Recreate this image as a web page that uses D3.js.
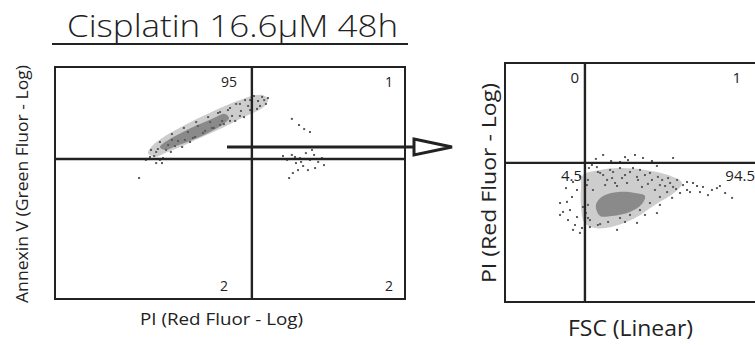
<!DOCTYPE html>
<html><head><meta charset="utf-8">
<script src="https://cdn.jsdelivr.net/npm/d3@7"></script>
<style>
html,body{margin:0;padding:0;background:#fff;}
svg{display:block;}
text{font-family:"Open Sans","Noto Sans",sans-serif;}
</style></head>
<body>
<svg id="chart" width="755" height="345"></svg>
<script>
// ---------------- DATA (channel units 0-1024) ----------------
const titleText = "Cisplatin 16.6\u03bcM 48h";

// Left panel: Annexin V vs PI
const leftXLabel = "PI (Red Fluor - Log)";
const leftYLabel = "Annexin V (Green Fluor - Log)";
const leftGates = [576, 618];            // [x gate, y gate]
const leftQuadrants = [95, 1, 2, 2];     // UL, UR, LL, LR (%)
const leftHalo = [[272,644],[284,675],[322,719],[380,768],[439,812],[497,852],[541,878],[576,896],[606,900],[623,883],[614,852],[585,825],[541,795],[489,755],[424,711],[366,671],[322,644],[293,627]];
const leftCore = [[307,671],[336,706],[380,742],[424,772],[465,799],[497,817],[509,799],[489,768],[448,733],[401,702],[354,675],[322,658]];
const leftDots = [[281,658],[290,631],[301,662],[316,622],[331,680],[307,614],[342,702],[360,697],[372,671],[389,737],[410,715],[418,764],[439,742],[454,781],[465,755],[477,821],[489,786],[506,834],[518,808],[530,861],[544,830],[556,878],[565,852],[582,896],[594,874],[606,892],[617,861],[591,839],[553,803],[527,786],[494,772],[395,693],[339,649],[278,627],[246,534],[266,614],[296,600],[313,600],
  [296,649],[325,658],[351,675],[380,702],[404,711],[433,733],[459,755],[483,768],[512,786],[541,808],[571,834],[600,852],[571,878],[541,861],[512,843],[483,825],[448,803],[413,781],[377,755],[342,728],[307,693],[612,878],[623,887],
  [693,795],[714,768],[729,750],[746,737],[667,631],[679,614],[693,636],[705,600],[717,622],[726,587],[734,644],[746,614],[758,636],[770,605],[781,622],[711,569],[696,556],[685,534],[740,569],[761,578],[720,605],[702,627],[787,591],[752,658]];

// Right panel: PI vs FSC
const rightXLabel = "FSC (Linear)";
const rightYLabel = "PI (Red Fluor - Log)";
const rightGates = [321, 596];
const rightQuadrants = [0, 1, 4.5, 94.5]; // UL, UR, LL, LR (%)
const rightHalo = [[313,544],[382,566],[462,574],[562,566],[655,544],[711,510],[683,471],[602,416],[522,360],[442,326],[361,317],[317,343],[305,416],[305,488]];
const rightCore = [[365,416],[394,454],[454,471],[522,467],[562,454],[550,420],[502,386],[430,369],[382,369]];
const rightDots = [[394,630],[482,621],[522,630],[675,617],[494,608],[462,600],
  [337,574],[373,557],[422,566],[462,574],[502,557],[542,566],[582,553],[614,536],[655,531],[691,523],[731,514],[755,510],[795,493],[831,480],[851,488],[884,467],[912,446],[731,480],[675,493],[651,471],[622,450],[582,424],[542,394],[502,373],[462,360],[414,343],[373,330],[341,321],[309,317],[301,296],[273,309],[253,351],[233,386],[221,424],[249,429],[269,450],[289,480],[273,514],[301,536],[333,523],[353,480],[313,407],[289,364],[333,360],[450,309],[530,339],[610,381],[703,467],
  [382,553],[430,531],[482,544],[534,523],[574,506],[622,501],[402,501],[442,510],
  [349,587],[369,578],[394,544],[410,523],[434,557],[450,497],[470,531],[490,510],[514,574],[530,536],[550,493],[562,544],[590,523],[602,480],[631,523],[643,497],[663,510],[687,484],[715,501],[743,471],[771,497],[783,471],[815,458],[863,497],[329,501],[321,458],[333,416],[325,381],[341,351],[382,334],[482,343],[562,373],[622,416],[671,446],[245,488],[221,373],[281,330],[261,394],[590,604],[554,617],[610,583],[426,604],[365,613]];

// ---------------- DRAWING ----------------
const svg = d3.select("#chart");
const ink = "#222";

// Title + underline
svg.append("text").attr("x", 67).attr("y", 37)
  .attr("textLength", 331).attr("lengthAdjust","spacingAndGlyphs")
  .attr("fill", ink).style("font-size","32px").style("font-weight","300").text(titleText);
svg.append("line").attr("x1",52).attr("x2",408).attr("y1",44).attr("y2",44)
  .attr("stroke",ink).attr("stroke-width",2);

function panel(cfg){
  const x = d3.scaleLinear().domain([0,1024]).range(cfg.xr);
  const y = d3.scaleLinear().domain([0,1024]).range(cfg.yr);
  const g = svg.append("g");
  const line = d3.line().x(d=>x(d[0])).y(d=>y(d[1])).curve(d3.curveCatmullRomClosed);
  g.append("path").attr("d", line(cfg.halo)).attr("fill","#cdcdcd");
  g.append("path").attr("d", line(cfg.core)).attr("fill","#8a8a8a");
  g.selectAll("rect.dot").data(cfg.dots).join("rect").attr("class","dot")
    .attr("x", d=>x(d[0])-1).attr("y", d=>y(d[1])-1).attr("width",2).attr("height",2)
    .attr("fill","#5a5a5a");
  // frame
  const [x0,x1] = cfg.xr, [y0,y1] = cfg.yr;
  g.append("rect").attr("x",x0).attr("y",y1).attr("width",x1-x0).attr("height",y0-y1)
    .attr("fill","none").attr("stroke",ink).attr("stroke-width",2);
  // gates
  g.append("line").attr("x1",x(cfg.gates[0])).attr("x2",x(cfg.gates[0])).attr("y1",y1).attr("y2",y0)
    .attr("stroke",ink).attr("stroke-width",2.4);
  g.append("line").attr("x1",x0).attr("x2",x1).attr("y1",y(cfg.gates[1])).attr("y2",y(cfg.gates[1]))
    .attr("stroke",ink).attr("stroke-width",2.4);
  // quadrant labels
  g.selectAll("text.q").data(cfg.quads).join("text").attr("class","q")
    .attr("x",(d,i)=>cfg.qPos[i][0]).attr("y",(d,i)=>cfg.qPos[i][1]).attr("text-anchor","end")
    .attr("fill", ink).style("font-size",cfg.qSize+"px").text(d=>d);
  // axis labels
  g.append("text").attr("x",cfg.xlPos[0]).attr("y",cfg.xlPos[1])
    .attr("textLength",cfg.xlLen).attr("lengthAdjust","spacingAndGlyphs")
    .attr("fill", ink).style("font-size",cfg.xlSize+"px").text(cfg.xLabel);
  g.append("text").attr("transform",`translate(${cfg.ylPos[0]},${cfg.ylPos[1]}) rotate(-90)`)
    .attr("textLength",cfg.ylLen).attr("lengthAdjust","spacingAndGlyphs")
    .attr("fill", ink).style("font-size",cfg.ylSize+"px").text(cfg.yLabel);
}

panel({xr:[55,405], yr:[299,67], halo:leftHalo, core:leftCore, dots:leftDots, gates:leftGates,
  quads:leftQuadrants, qPos:[[237,87],[393,87],[228,291],[393,291]], qSize:14,
  xLabel:leftXLabel, xlPos:[140,325], xlLen:163, xlSize:17,
  yLabel:leftYLabel, ylPos:[28,303], ylLen:238, ylSize:17});

panel({xr:[505,760], yr:[302,63], halo:rightHalo, core:rightCore, dots:rightDots, gates:rightGates,
  quads:rightQuadrants, qPos:[[579,83],[741,83],[582,181],[755,181]], qSize:15,
  xLabel:rightXLabel, xlPos:[568,336], xlLen:125, xlSize:21,
  yLabel:rightYLabel, ylPos:[496,283], ylLen:200, ylSize:20});

// Arrow from left panel to right panel
svg.append("line").attr("x1",227).attr("x2",414).attr("y1",147).attr("y2",147)
  .attr("stroke",ink).attr("stroke-width",3);
svg.append("path").attr("d", d3.line()([[414,139],[452,147],[414,155]]) + "Z")
  .attr("fill","#fff").attr("stroke",ink).attr("stroke-width",3).attr("stroke-linejoin","miter");
</script>
</body></html>
